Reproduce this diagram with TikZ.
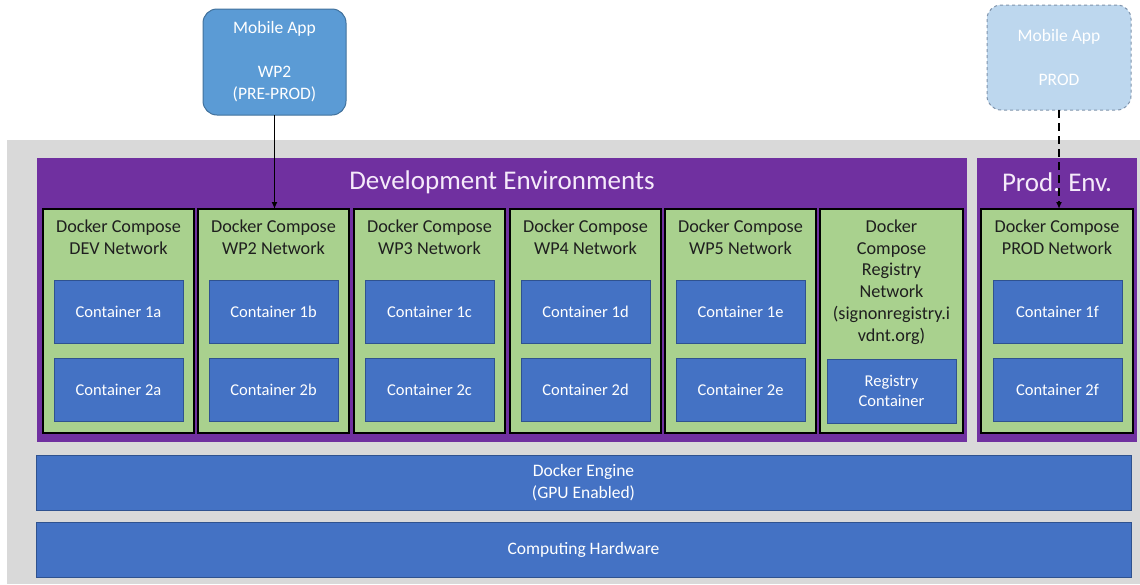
\documentclass[tikz,border=0pt]{standalone}
\usepackage{fontspec}
\setmainfont{Carlito}
\usetikzlibrary{arrows.meta}
\definecolor{bggray}{HTML}{D9D9D9}
\definecolor{envpurple}{HTML}{7030A0}
\definecolor{netgreen}{HTML}{A9D18E}
\definecolor{contblue}{HTML}{4472C4}
\definecolor{contborder}{HTML}{2F528F}
\definecolor{appblue}{HTML}{5B9BD5}
\definecolor{appborder}{HTML}{41719C}
\definecolor{prodfill}{HTML}{BDD7EE}
\definecolor{prodborder}{HTML}{7F93AB}
\definecolor{headtext}{HTML}{F5EAFA}
\definecolor{darktext}{HTML}{1F1F1F}
\tikzset{
  box/.style={rectangle, inner sep=0pt, outer sep=0pt},
  envbox/.style={box, fill=envpurple},
  envtitle/.style={inner sep=0pt, text=headtext, font=\fontsize{27}{32}\selectfont},
  netbox/.style={box, fill=netgreen, draw=black, line width=1.6pt, minimum width=151pt, minimum height=224pt},
  nettitle/.style={inner sep=0pt, align=center, text=darktext, font=\fontsize{18.2}{21.7}\selectfont},
  contbox/.style={box, fill=contblue, draw=contborder, line width=0.8pt, minimum width=129pt, minimum height=63pt, text=white, align=center, font=\fontsize{16.5}{20}\selectfont},
  barbox/.style={box, fill=contblue, draw=contborder, line width=0.8pt, minimum width=1095pt, minimum height=55pt, text=white, align=center, font=\fontsize{17.5}{22}\selectfont},
  appbox/.style={box, rounded corners=14pt, line width=1pt, minimum width=143pt, minimum height=106pt, align=center, text=white, font=\fontsize{17.5}{22}\selectfont},
  link/.style={line width=1.5pt, -{Latex[length=7pt,width=6pt]}}
}
\begin{document}
\begin{tikzpicture}[x=1pt,y=-1pt]
\useasboundingbox (0,0) rectangle (1140,584);
% background
\node[box, fill=bggray, minimum width=1133pt, minimum height=444pt] (bg) at (573.5,362) {};
% environments
\node[envbox, minimum width=930pt, minimum height=284pt] (dev) at (502,300) {};
\node[envbox, minimum width=160pt, minimum height=284pt] (prod) at (1057,300) {};
\node[envtitle] (devtitle) at (502,182) {Development Environments};
\node[envtitle] (prodtitle) at (1057,182) {Prod. Env.};
% networks
\foreach \n/\cx/\lab/\s in {dev/118.5/DEV/a, wp2/273.5/WP2/b, wp3/429.5/WP3/c, wp4/585.5/WP4/d, wp5/740.5/WP5/e}{
  \node[netbox] (net-\n) at (\cx,321) {};
  \node[nettitle] (t-\n) at (\cx,237.5) {Docker Compose\\\lab{} Network};
  \node[contbox] (c1-\n) at (\cx,311.5) {Container 1\s};
  \node[contbox] (c2-\n) at (\cx,390) {Container 2\s};
}
\node[netbox, minimum width=143pt] (net-reg) at (891.5,321) {};
\node[nettitle] (t-reg) at (891.5,282) {Docker\\Compose\\Registry\\Network\\(signonregistry.i\\vdnt.org)};
\node[contbox, minimum height=64pt] (c-reg) at (891.5,391) {Registry\\Container};
\node[netbox, minimum width=152pt] (net-prod) at (1057,321) {};
\node[nettitle] (t-prod) at (1057,237.5) {Docker Compose\\PROD Network};
\node[contbox] (c1-prod) at (1057.5,311.5) {Container 1f};
\node[contbox] (c2-prod) at (1057.5,390) {Container 2f};
% bars
\node[barbox] (engine) at (583.5,482.5) {Docker Engine\\(GPU Enabled)};
\node[barbox] (hw) at (583.5,549.5) {Computing Hardware};
% mobile apps
\node[appbox, fill=appblue, draw=appborder] (app-wp2) at (274.5,62) {Mobile App\\\mbox{}\\WP2\\(PRE-PROD)};
\node[appbox, fill=prodfill, draw=prodborder, dashed, minimum width=144pt, minimum height=105pt] (app-prod) at (1059,57.5) {Mobile App\\\mbox{}\\PROD};
% connectors
\draw[link] (app-wp2.south) -- (app-wp2.south |- net-wp2.north);
\draw[link, line width=2pt, dash pattern=on 8pt off 5pt] (app-prod.south) -- (app-prod.south |- net-prod.north);
\end{tikzpicture}
\end{document}
